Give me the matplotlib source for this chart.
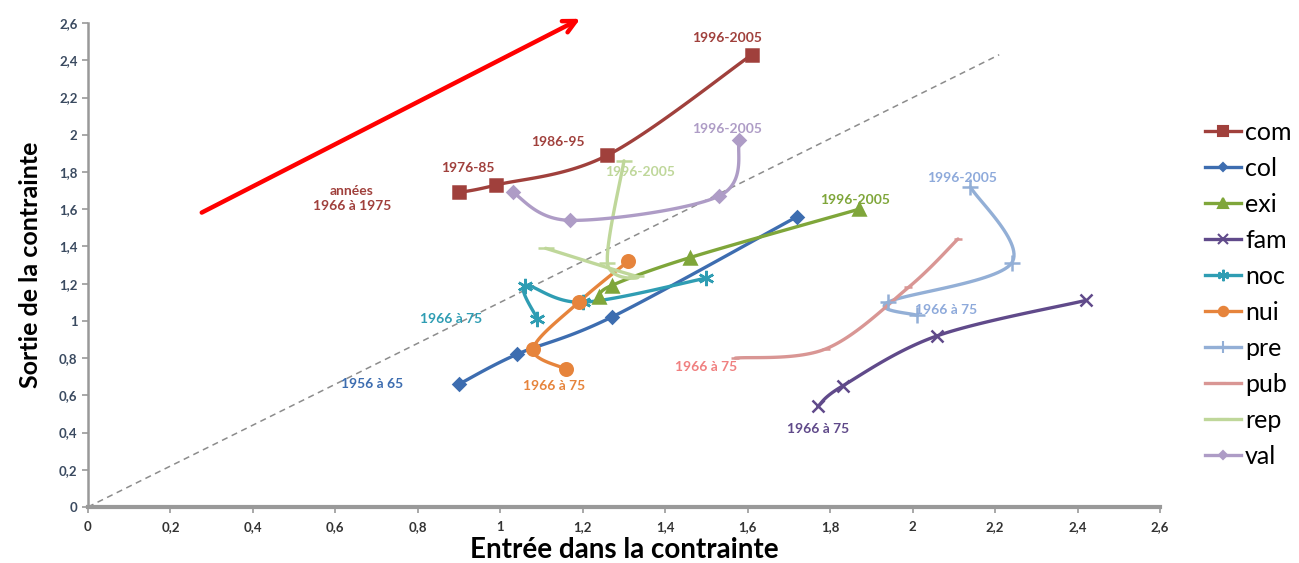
import numpy as np
import matplotlib
matplotlib.use('Agg')
import matplotlib.pyplot as plt
from matplotlib.ticker import FuncFormatter, MultipleLocator

plt.rcParams['font.family'] = ['Lato', 'DejaVu Sans']

# data: (entrée, sortie) per period
series_names = ['com', 'col', 'exi', 'fam', 'noc', 'nui', 'pre', 'pub', 'rep', 'val']
com_x = [0.90, 0.99, 1.26, 1.61]
com_y = [1.69, 1.73, 1.89, 2.43]
col_x = [0.90, 1.04, 1.27, 1.72]
col_y = [0.66, 0.82, 1.02, 1.56]
exi_x = [1.24, 1.27, 1.46, 1.87]
exi_y = [1.13, 1.19, 1.34, 1.60]
fam_x = [1.77, 1.83, 2.06, 2.42]
fam_y = [0.54, 0.65, 0.92, 1.11]
noc_x = [1.09, 1.06, 1.20, 1.50]
noc_y = [1.01, 1.19, 1.10, 1.23]
nui_x = [1.16, 1.08, 1.19, 1.31]
nui_y = [0.74, 0.85, 1.10, 1.32]
pre_x = [2.01, 1.94, 2.24, 2.14]
pre_y = [1.03, 1.10, 1.31, 1.72]
pub_x = [1.57, 1.79, 1.99, 2.11]
pub_y = [0.80, 0.85, 1.18, 1.44]
rep_x = [1.11, 1.33, 1.26, 1.30]
rep_y = [1.39, 1.24, 1.31, 1.86]
val_x = [1.03, 1.17, 1.53, 1.58]
val_y = [1.69, 1.54, 1.67, 1.97]

colors = {'com': '#A0403C', 'col': '#3D6DB0', 'exi': '#7FA63A', 'fam': '#604A8A',
          'noc': '#2F9DB3', 'nui': '#E6843C', 'pre': '#93AFD6', 'pub': '#D99694',
          'rep': '#BFD79A', 'val': '#AE9CC6'}
markers = {'com': ('s', 9), 'col': ('D', 6), 'exi': ('^', 9), 'fam': ('x', 9),
           'noc': ((6, 2, 0), 11), 'nui': ('o', 9), 'pre': ('+', 12),
           'pub': ('_', 6), 'rep': ('_', 11), 'val': ('D', 6)}
data = {'com': (com_x, com_y), 'col': (col_x, col_y), 'exi': (exi_x, exi_y),
        'fam': (fam_x, fam_y), 'noc': (noc_x, noc_y), 'nui': (nui_x, nui_y),
        'pre': (pre_x, pre_y), 'pub': (pub_x, pub_y), 'rep': (rep_x, rep_y),
        'val': (val_x, val_y)}


def smooth(x, y, n=30):
    # catmull-rom, like excel's smoothed line
    p = np.column_stack([x, y]).astype(float)
    p = np.vstack([p[0], p, p[-1]])
    out = []
    for i in range(1, len(p) - 2):
        p0, p1, p2, p3 = p[i - 1], p[i], p[i + 1], p[i + 2]
        t = np.linspace(0, 1, n)[:, None]
        c1 = p1 + (p2 - p0) / 6
        c2 = p2 - (p3 - p1) / 6
        seg = (1 - t) ** 3 * p1 + 3 * (1 - t) ** 2 * t * c1 + 3 * (1 - t) * t ** 2 * c2 + t ** 3 * p2
        out.append(seg)
    out = np.vstack(out)
    return out[:, 0], out[:, 1]


fig = plt.figure(figsize=(12.99, 5.63), dpi=100)
ax = fig.add_axes([0.0677, 0.0995, 0.8253, 0.8595])

ax.plot([0, 2.21], [0, 2.43], ls=(0, (4, 3)), color='#8c8c8c', lw=1.1, zorder=1)

handles = []
for name in series_names:
    x, y = data[name]
    c = colors[name]
    m, ms = markers[name]
    sx, sy = smooth(x, y)
    ax.plot(sx, sy, color=c, lw=2.4, zorder=2, solid_capstyle='round')
    ax.plot(x, y, ls='none', marker=m, ms=ms, color=c, mec=c, mew=1.8, zorder=3)
    h, = ax.plot([], [], color=c, lw=2.4, marker=m, ms=ms * 0.75, mec=c, mew=1.5)
    handles.append(h)

# period labels
labels = [
    (0.64, 1.66, 'années\n1966 à 1975', 'com'),
    (0.92, 1.82, '1976-85', 'com'),
    (1.14, 1.96, '1986-95', 'com'),
    (1.55, 2.52, '1996-2005', 'com'),
    (1.55, 2.03, '1996-2005', 'val'),
    (1.34, 1.80, '1996-2005', 'rep'),
    (1.86, 1.65, '1996-2005', 'exi'),
    (2.12, 1.77, '1996-2005', 'pre'),
    (0.88, 1.01, '1966 à 75', 'noc'),
    (0.69, 0.66, '1956 à 65', 'col'),
    (1.13, 0.65, '1966 à 75', 'nui'),
    (1.50, 0.75, '1966 à 75', 'pub'),
    (2.08, 1.06, '1966 à 75', 'pre'),
    (1.77, 0.42, '1966 à 75', 'fam'),
]
label_colors = dict(colors)
label_colors['pub'] = '#F08080'
label_colors['pre'] = '#8EAADB'
for lx, ly, txt, key in labels:
    ax.text(lx, ly, txt, color=label_colors[key], fontsize=10, fontweight='bold',
            ha='center', va='center', linespacing=1.3, zorder=4)

ax.annotate('', xy=(1.20, 2.63), xytext=(0.27, 1.575),
            arrowprops=dict(arrowstyle='->,head_length=0.9,head_width=0.45',
                            color='#FF0000', lw=3.2), annotation_clip=False)

ax.set_xlim(0, 2.6)
ax.set_ylim(0, 2.6)
ax.xaxis.set_major_locator(MultipleLocator(0.2))
ax.yaxis.set_major_locator(MultipleLocator(0.2))
fmt = FuncFormatter(lambda v, p: ('%g' % round(v, 1)).replace('.', ','))
ax.xaxis.set_major_formatter(fmt)
ax.yaxis.set_major_formatter(fmt)
for lab in ax.get_xticklabels() + ax.get_yticklabels():
    lab.set_fontweight('bold')
ax.tick_params(labelsize=9.5, length=4, width=1.2)
ax.tick_params(axis='x', colors='#999999', labelcolor='#333333', pad=6)
ax.tick_params(axis='y', colors='#999999', labelcolor='#3a4a60')
for s in ['top', 'right']:
    ax.spines[s].set_visible(False)
ax.spines['left'].set_color('#999999')
ax.spines['left'].set_linewidth(1.8)
ax.spines['bottom'].set_color('#999999')
ax.spines['bottom'].set_linewidth(3)

ax.set_xlabel('Entrée dans la contrainte', fontsize=20, fontweight='bold', va='center')
ax.xaxis.set_label_coords(0.5, -0.088)
ax.set_ylabel('Sortie de la contrainte', fontsize=18, fontweight='bold', va='center')
ax.yaxis.set_label_coords(-0.054, 0.5)

fig.legend(handles, series_names, loc='center left', bbox_to_anchor=(0.918, 0.477),
           frameon=False, fontsize=18, handlelength=1.45, handletextpad=0.15,
           labelspacing=0.52, borderpad=0)

fig.savefig('out.png', dpi=100)
